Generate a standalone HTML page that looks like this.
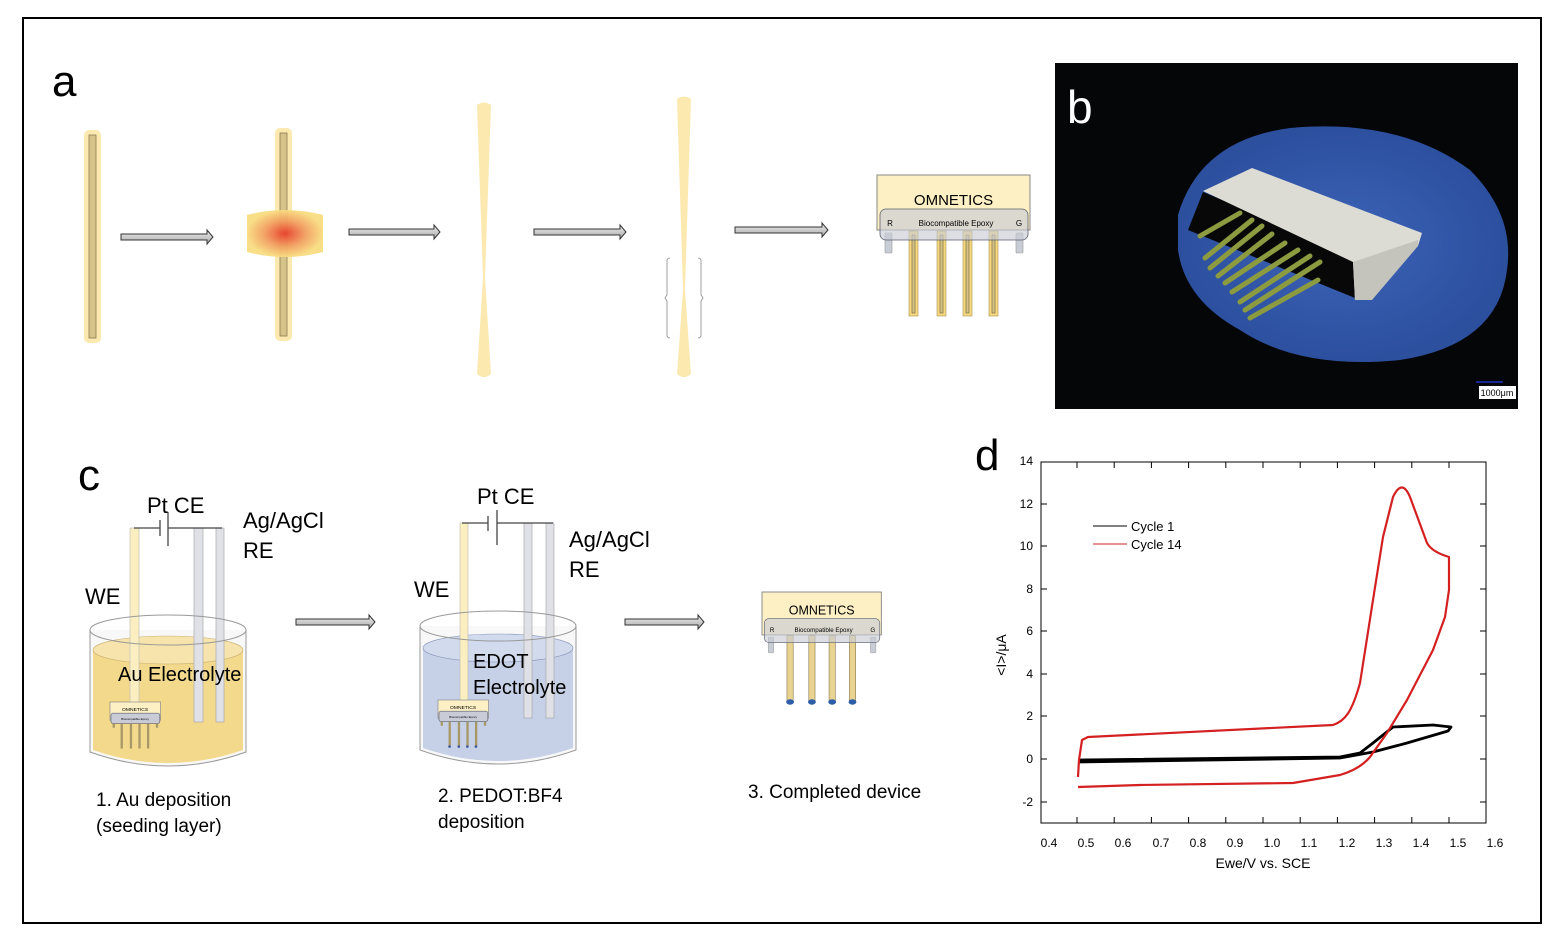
<!DOCTYPE html>
<html><head><meta charset="utf-8"><style>
html,body{margin:0;padding:0;background:#fff;}
svg{display:block;font-family:"Liberation Sans",sans-serif;}
.cal{font-family:"Liberation Sans","DejaVu Sans",sans-serif;}
</style></head><body>
<svg width="1560" height="940" viewBox="0 0 1560 940" xmlns="http://www.w3.org/2000/svg">
<defs>
<radialGradient id="heat" cx="0.5" cy="0.5" r="0.5">
<stop offset="0" stop-color="#e8402c"/><stop offset="0.55" stop-color="#f2a060"/><stop offset="1" stop-color="#f8dc80"/>
</radialGradient>
<linearGradient id="arr" x1="0" y1="0" x2="0" y2="1"><stop offset="0" stop-color="#eee"/><stop offset="1" stop-color="#aaa"/></linearGradient>
<radialGradient id="blob" cx="0.5" cy="0.5" r="0.5"><stop offset="0" stop-color="#3d64b8"/><stop offset="1" stop-color="#2c4f9e"/></radialGradient>
</defs>
<rect x="0" y="0" width="1560" height="940" fill="#fff"/>
<rect x="23" y="18" width="1518" height="905" fill="none" stroke="#000" stroke-width="2"/>

<!-- panel a -->
<text x="52" y="96" font-size="44" class="cal">a</text>
<rect x="84" y="130" width="17" height="213" rx="5" fill="#fbe9b0"/>
<rect x="89" y="135" width="7" height="203" fill="#d6c38a" stroke="#8a7a50" stroke-width="0.8"/>
<rect x="275" y="128" width="17" height="213" rx="5" fill="#fbe9b0"/>
<rect x="280" y="133" width="7" height="203" fill="#d6c38a" stroke="#8a7a50" stroke-width="0.8"/>
<path d="M247 215 Q285 205 323 215 L323 252 Q285 262 247 252 Z" fill="url(#heat)" opacity="0.95"/>
<g stroke="#333" stroke-width="1" fill="url(#arr)">
<path d="M121 234 h86 v-4 l6 7 l-6 7 v-4 h-86 z"/>
<path d="M349 229 h85 v-4 l6 7 l-6 7 v-4 h-85 z"/>
<path d="M534 229 h86 v-4 l6 7 l-6 7 v-4 h-86 z"/>
<path d="M735 227 h87 v-4 l6 7 l-6 7 v-4 h-87 z"/>
<path d="M296 619 h73 v-4 l6 7 l-6 7 v-4 h-73 z"/>
<path d="M625 619 h73 v-4 l6 7 l-6 7 v-4 h-73 z"/>
</g>
<path d="M477 105 Q484 100 491 105 L485 277 L491 374 Q484 380 477 374 L483 277 Z" fill="#fbe9b0"/>
<path d="M677 99 Q684 94 691 99 L685 290 L691 374 Q684 380 677 374 L683 290 Z" fill="#fbe9b0"/>
<path d="M670 258 q-3 0 -3 3 v34 l-2 3 l2 3 v34 q0 3 3 3" fill="none" stroke="#888" stroke-width="0.8"/>
<path d="M698 258 q3 0 3 3 v34 l2 3 l-2 3 v34 q0 3 -3 3" fill="none" stroke="#888" stroke-width="0.8"/>

<g transform="translate(877,175)">
<rect x="0" y="0" width="153" height="55" fill="#fdf0c4" stroke="#888" stroke-width="1"/>
<rect x="8" y="58" width="7" height="20" rx="1" fill="#c8ccd4" stroke="#999" stroke-width="0.6"/>
<rect x="139" y="58" width="7" height="20" rx="1" fill="#c8ccd4" stroke="#999" stroke-width="0.6"/>
<g fill="#f5d980" stroke="#a89050" stroke-width="0.6">
<rect x="32" y="56" width="9" height="85"/><rect x="60" y="56" width="9" height="85"/><rect x="86" y="56" width="9" height="85"/><rect x="112" y="56" width="9" height="85"/></g>
<g fill="#d6c38a" stroke="#6a5a30" stroke-width="0.6">
<rect x="35" y="60" width="3" height="78"/><rect x="63" y="60" width="3" height="78"/><rect x="89" y="60" width="3" height="78"/><rect x="115" y="60" width="3" height="78"/></g>
<rect x="3" y="34" width="148" height="31" rx="6" fill="#c9ccd6" fill-opacity="0.65" stroke="#5a6070" stroke-width="0.8"/>
<text x="76.5" y="30" font-size="15" text-anchor="middle" class="cal">OMNETICS</text>
<text x="13" y="51" font-size="8" text-anchor="middle">R</text>
<text x="79" y="51" font-size="8" text-anchor="middle">Biocompatible Epoxy</text>
<text x="142" y="51" font-size="8" text-anchor="middle">G</text>
</g>

<!-- panel b photo -->
<rect x="1055" y="63" width="463" height="346" fill="#050608"/>
<path d="M1178 215 Q1200 140 1290 128 Q1400 118 1470 170 Q1515 215 1507 270 Q1498 345 1400 360 Q1300 370 1240 330 Q1185 300 1178 250 Z" fill="url(#blob)"/>
<path d="M1188 230 L1203 192 L1355 255 L1355 298 Z" fill="#080808"/>
<path d="M1203 191 L1252 168 L1422 233 L1418 246 L1355 300 L1353 262 Z" fill="#dcdcd4"/>
<path d="M1353 262 L1418 240 L1418 246 L1372 300 L1355 300 Z" fill="#c4c4bc"/>
<g stroke="#8c9a40" stroke-width="5" stroke-linecap="round">
<line x1="1240" y1="213" x2="1200" y2="236"/><line x1="1252" y1="220" x2="1205" y2="258"/>
<line x1="1262" y1="226" x2="1210" y2="268"/><line x1="1272" y1="234" x2="1218" y2="276"/>
<line x1="1285" y1="243" x2="1225" y2="283"/><line x1="1298" y1="250" x2="1232" y2="292"/>
<line x1="1310" y1="256" x2="1240" y2="302"/><line x1="1320" y1="262" x2="1245" y2="310"/>
<line x1="1318" y1="280" x2="1250" y2="318"/></g>
<text x="1067" y="123" font-size="46" fill="#fff" class="cal">b</text>
<line x1="1476" y1="382" x2="1503" y2="382" stroke="#2030c0" stroke-width="1.5"/>
<rect x="1479" y="386" width="37" height="13" fill="#fff"/>
<text x="1497" y="396" font-size="9" text-anchor="middle">1000μm</text>

<!-- panel c -->
<text x="78" y="490" font-size="44" class="cal">c</text>
<path d="M90 630 V752 Q168 780 246 752 V630" fill="#f8f8f8" stroke="#999" stroke-width="1"/>
<path d="M93 650 V750 Q168 776 243 750 V650 Z" fill="#f3d98c"/>
<ellipse cx="168" cy="650" rx="75" ry="14" fill="#f6e4ac" stroke="#c8b070" stroke-width="0.6"/>
<rect x="130" y="528" width="9" height="175" fill="#fbeec0" stroke="#bbb" stroke-width="0.6"/>
<rect x="194" y="528" width="9" height="194" fill="#dfe1e6" stroke="#aaa" stroke-width="0.7"/>
<rect x="216" y="528" width="8" height="194" fill="#dfe1e6" stroke="#aaa" stroke-width="0.7"/>
<path d="M134 528 H160 M168 528 H222" stroke="#444" stroke-width="1.2"/>
<line x1="160" y1="520" x2="160" y2="536" stroke="#444" stroke-width="1.3"/>
<line x1="168" y1="512" x2="168" y2="546" stroke="#444" stroke-width="1.3"/>
<ellipse cx="168" cy="630" rx="78" ry="15" fill="none" stroke="#999" stroke-width="1"/>
<g transform="translate(110,702) scale(0.33)">
<rect x="0" y="0" width="153" height="55" fill="#fdf0c4" stroke="#888" stroke-width="2"/>
<rect x="3" y="34" width="148" height="31" rx="6" fill="#c9ccd6" stroke="#5a6070" stroke-width="2"/>
<g fill="#a89868"><rect x="32" y="66" width="7" height="75"/><rect x="60" y="66" width="7" height="75"/><rect x="86" y="66" width="7" height="75"/><rect x="112" y="66" width="7" height="75"/><rect x="8" y="66" width="7" height="12"/><rect x="139" y="66" width="7" height="12"/></g>
<text x="76" y="28" font-size="15" text-anchor="middle">OMNETICS</text>
<text x="76" y="55" font-size="9" text-anchor="middle">Biocompatible Epoxy</text>
</g>
<text x="243" y="528" font-size="22" class="cal">Ag/AgCl</text>
<text x="243" y="558" font-size="22" class="cal">RE</text>
<text x="147" y="513" font-size="22" class="cal">Pt CE</text>
<text x="85" y="604" font-size="22" class="cal">WE</text>
<text x="118" y="681" font-size="20" class="cal">Au Electrolyte</text>
<text x="96" y="806" font-size="19" class="cal">1. Au deposition</text>
<text x="96" y="832" font-size="19" class="cal">(seeding layer)</text>

<path d="M420 626 V750 Q498 778 576 750 V626" fill="#f8f8f8" stroke="#999" stroke-width="1"/>
<path d="M423 648 V748 Q498 774 573 748 V648 Z" fill="#c6d0e6"/>
<ellipse cx="498" cy="648" rx="75" ry="14" fill="#d2dbee" stroke="#8896b8" stroke-width="0.6"/>
<rect x="460" y="523" width="8" height="180" fill="#fbeec0" stroke="#bbb" stroke-width="0.6"/>
<rect x="524" y="523" width="8" height="195" fill="#dfe1e6" stroke="#aaa" stroke-width="0.7"/>
<rect x="546" y="523" width="8" height="195" fill="#dfe1e6" stroke="#aaa" stroke-width="0.7"/>
<path d="M462 523 H488 M497 523 H553" stroke="#444" stroke-width="1.2"/>
<line x1="488" y1="516" x2="488" y2="531" stroke="#444" stroke-width="1.3"/>
<line x1="497" y1="510" x2="497" y2="545" stroke="#444" stroke-width="1.3"/>
<ellipse cx="498" cy="626" rx="78" ry="15" fill="none" stroke="#999" stroke-width="1"/>
<g transform="translate(438,700) scale(0.33)">
<rect x="0" y="0" width="153" height="55" fill="#fdf0c4" stroke="#888" stroke-width="2"/>
<rect x="3" y="34" width="148" height="31" rx="6" fill="#c9ccd6" stroke="#5a6070" stroke-width="2"/>
<g fill="#a89868"><rect x="32" y="66" width="7" height="75"/><rect x="60" y="66" width="7" height="75"/><rect x="86" y="66" width="7" height="75"/><rect x="112" y="66" width="7" height="75"/><rect x="8" y="66" width="7" height="12"/><rect x="139" y="66" width="7" height="12"/></g>
<g fill="#3a5a9a"><circle cx="35" cy="141" r="4"/><circle cx="63" cy="141" r="4"/><circle cx="89" cy="141" r="4"/><circle cx="115" cy="141" r="4"/></g>
<text x="76" y="28" font-size="15" text-anchor="middle">OMNETICS</text>
<text x="76" y="55" font-size="9" text-anchor="middle">Biocompatible Epoxy</text>
</g>
<text x="569" y="547" font-size="22" class="cal">Ag/AgCl</text>
<text x="569" y="577" font-size="22" class="cal">RE</text>
<text x="477" y="504" font-size="22" class="cal">Pt CE</text>
<text x="414" y="597" font-size="22" class="cal">WE</text>
<text x="473" y="668" font-size="20" class="cal">EDOT</text>
<text x="473" y="694" font-size="20" class="cal">Electrolyte</text>
<text x="438" y="802" font-size="19" class="cal">2. PEDOT:BF4</text>
<text x="438" y="828" font-size="19" class="cal">deposition</text>

<g transform="translate(762,592) scale(0.78)">
<rect x="0" y="0" width="153" height="55" fill="#fdf0c4" stroke="#888" stroke-width="1.2"/>
<rect x="8" y="58" width="7" height="20" rx="1" fill="#c8ccd4" stroke="#999" stroke-width="0.6"/>
<rect x="139" y="58" width="7" height="20" rx="1" fill="#c8ccd4" stroke="#999" stroke-width="0.6"/>
<g fill="#e8d490" stroke="#8a7a50" stroke-width="0.8">
<rect x="32" y="56" width="8" height="85"/><rect x="60" y="56" width="8" height="85"/><rect x="86" y="56" width="8" height="85"/><rect x="112" y="56" width="8" height="85"/></g>
<g fill="#2f5ea8"><ellipse cx="36" cy="141" rx="5" ry="3.5"/><ellipse cx="64" cy="141" rx="5" ry="3.5"/><ellipse cx="90" cy="141" rx="5" ry="3.5"/><ellipse cx="116" cy="141" rx="5" ry="3.5"/></g>
<rect x="3" y="34" width="148" height="31" rx="6" fill="#c9ccd6" fill-opacity="0.65" stroke="#5a6070" stroke-width="0.8"/>
<text x="76.5" y="29" font-size="16" text-anchor="middle" class="cal">OMNETICS</text>
<text x="13" y="51" font-size="8" text-anchor="middle">R</text>
<text x="79" y="51" font-size="8" text-anchor="middle">Biocompatible Epoxy</text>
<text x="142" y="51" font-size="8" text-anchor="middle">G</text>
</g>
<text x="748" y="798" font-size="19" class="cal">3. Completed device</text>

<!-- panel d -->
<text x="975" y="470" font-size="44" class="cal">d</text>
<rect x="1041" y="462" width="445" height="361" fill="none" stroke="#000" stroke-width="1"/>
<g stroke="#000" stroke-width="1">
<path d="M1077 823v-6M1114.2 823v-6M1151.4 823v-6M1188.6 823v-6M1225.8 823v-6M1263 823v-6M1300.2 823v-6M1337.4 823v-6M1374.6 823v-6M1411.8 823v-6M1449 823v-6"/>
<path d="M1077 462v6M1114.2 462v6M1151.4 462v6M1188.6 462v6M1225.8 462v6M1263 462v6M1300.2 462v6M1337.4 462v6M1374.6 462v6M1411.8 462v6M1449 462v6"/>
<path d="M1041 504h6M1041 546h6M1041 589h6M1041 631h6M1041 674h6M1041 716h6M1041 759h6M1041 802h6"/>
<path d="M1486 504h-6M1486 546h-6M1486 589h-6M1486 631h-6M1486 674h-6M1486 716h-6M1486 759h-6M1486 802h-6"/>
</g>
<g font-size="12" text-anchor="end">
<text x="1033" y="465">14</text><text x="1033" y="508">12</text><text x="1033" y="550">10</text><text x="1033" y="593">8</text><text x="1033" y="635">6</text><text x="1033" y="678">4</text><text x="1033" y="720">2</text><text x="1033" y="763">0</text><text x="1033" y="806">-2</text>
</g>
<g font-size="12" text-anchor="middle">
<text x="1049" y="847">0.4</text><text x="1086" y="847">0.5</text><text x="1123" y="847">0.6</text><text x="1161" y="847">0.7</text><text x="1198" y="847">0.8</text><text x="1235" y="847">0.9</text><text x="1272" y="847">1.0</text><text x="1309" y="847">1.1</text><text x="1347" y="847">1.2</text><text x="1384" y="847">1.3</text><text x="1421" y="847">1.4</text><text x="1458" y="847">1.5</text><text x="1495" y="847">1.6</text>
</g>
<text x="1263" y="868" font-size="14" text-anchor="middle">Ewe/V vs. SCE</text>
<text transform="translate(1006,655) rotate(-90)" font-size="14" text-anchor="middle">&lt;I&gt;/μA</text>
<line x1="1093" y1="526" x2="1127" y2="526" stroke="#000" stroke-width="1"/>
<line x1="1093" y1="544" x2="1127" y2="544" stroke="#d42020" stroke-width="1"/>
<text x="1131" y="531" font-size="13">Cycle 1</text>
<text x="1131" y="549" font-size="13">Cycle 14</text>
<path d="M1078 760 L1340 757 L1360 753 L1373 743 L1393 727 L1433 725 L1451 727 L1448 731 L1407 743 L1373 752 L1340 758 L1078 762" fill="none" stroke="#000" stroke-width="2.8" stroke-linejoin="round"/>
<path d="M1078 777 L1079 760 L1082 740 L1088 737 L1333 725 C1345 721 1352 712 1360 683 L1373 600 L1383 537 L1393 497 Q1402 478 1410 497 L1427 543 Q1432 552 1449 557 L1449 590 L1445 617 L1433 650 L1407 700 L1387 733 L1370 757 Q1360 769 1340 775 L1293 783 L1140 785 L1078 787" fill="none" stroke="#d42020" stroke-width="2.2" stroke-linejoin="round"/>
</svg>
</body></html>
